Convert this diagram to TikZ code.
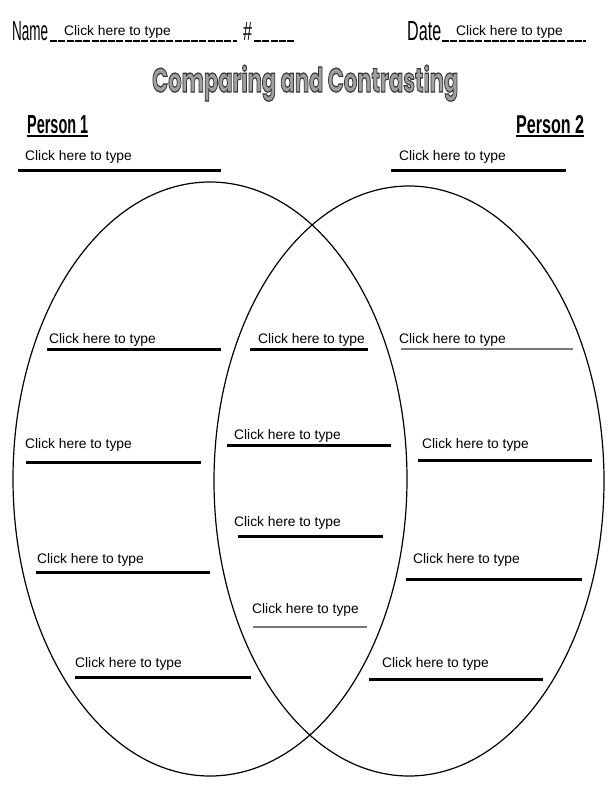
\documentclass[tikz,border=0pt]{standalone}
\usepackage{fontspec}
\setmainfont{Liberation Sans}
\newfontfamily\titlefont{Poppins}
\usetikzlibrary{positioning}
\definecolor{TitleGray}{RGB}{160,160,160}
\definecolor{LineGray}{RGB}{120,120,120}
\tikzset{
  hint/.style     ={anchor=base west, inner sep=0pt, font=\fontsize{13.8}{16}\selectfont},
  hand/.style     ={anchor=base west, inner sep=0pt},
  rule/.style     ={line width=3pt},
  rulegray/.style ={line width=2.8pt, draw=LineGray},
  blank/.style    ={line width=1.8pt, dash pattern=on 7pt off 1.3pt},
  oval/.style     ={line width=1.2pt},
}
\newcommand{\outlined}[1]{\special{pdf:literal direct 0.2 G 2 Tr 0.35 w}#1\special{pdf:literal direct 0 Tr}}

\begin{document}
\begin{tikzpicture}[x=1pt,y=-1pt]
  \useasboundingbox (0,0) rectangle (612,792);

  % header
  \node[hand] (name) at (12,41) {\resizebox{36pt}{19pt}{Name}};
  \draw[blank] (50,41) -- (237,41);
  \node[hand] (num) at (243,41) {\resizebox{9pt}{18pt}{\#}};
  \draw[blank] (254,41) -- (295,41);
  \node[hand] (date) at (407,41) {\resizebox{34pt}{19pt}{Date}};
  \draw[blank] (442,41) -- (586,41);
  \node[hint] (namefill) at (64,36) {Click here to type};
  \node[hint] (datefill) at (456,36) {Click here to type};

  % title
  \node[hand] (title) at (152,92)
    {\resizebox{306pt}{27pt}{\titlefont\bfseries\color{TitleGray}\outlined{Comparing and Contrasting}}};

  % persons
  \node[hand] (p1) at (27,133) {\resizebox{61pt}{18pt}{\bfseries Person 1}};
  \node[hand] (p2) at (516,133) {\resizebox{68pt}{18pt}{\bfseries Person 2}};
  \draw[line width=1.3pt] ([yshift=-3pt]p1.base west) -- ([yshift=-3pt]p1.base east);
  \draw[line width=1.3pt] ([yshift=-3pt]p2.base west) -- ([yshift=-3pt]p2.base east);

  % venn
  \draw[oval] (210,479) ellipse [x radius=197, y radius=297];
  \draw[oval] (409,481) ellipse [x radius=195, y radius=295];

  % fill-in lines
  \foreach \tx/\ty/\la/\lb/\ly/\sty [count=\i] in {
      25/160/18/221/170/rule, 399/160/391/566/170/rule,
      49/343/47/221/349/rule, 258/343/250/368/349/rule, 399/343/401/573/349/rulegray,
      25/448/26/201/462/rule, 234/439/227/391/445/rule, 422/448/418/592/460/rule,
      234/526/238/383/536/rule,
      37/563/36/210/572/rule, 413/563/406/582/579/rule,
      252/613/253/367/627/rulegray,
      75/667/75/251/677/rule, 382/667/369/543/679/rule}{
    \node[hint] (t\i) at (\tx,\ty) {Click here to type};
    \draw[\sty] (\la,\ly) -- (\lb,\ly);
  }
\end{tikzpicture}
\end{document}
